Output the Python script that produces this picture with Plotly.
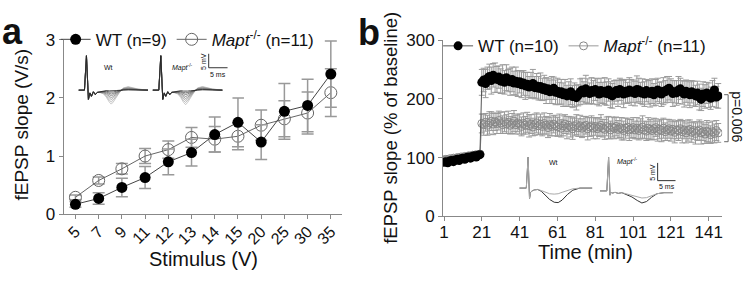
import plotly.graph_objects as go

W, H = 750, 282
def px(x): return x / W
def py(y): return 1 - y / H

FONT = "Arial, Liberation Sans, sans-serif"

# ---------------- Panel a data ----------------
stim_labels = ["5", "7", "9", "11", "12", "13", "14", "15", "20", "25", "30", "35"]
wt_a = [0.17, 0.27, 0.46, 0.63, 0.90, 1.06, 1.37, 1.58, 1.24, 1.77, 1.87, 2.41]
wt_a_err = [0.05, 0.10, 0.16, 0.19, 0.22, 0.23, 0.30, 0.42, 0.30, 0.48, 0.45, 0.57]
mapt_a = [0.29, 0.58, 0.78, 1.00, 1.11, 1.32, 1.29, 1.34, 1.53, 1.64, 1.74, 2.09]
mapt_a_err = [0.04, 0.06, 0.09, 0.13, 0.15, 0.17, 0.22, 0.23, 0.26, 0.31, 0.36, 0.41]

# ---------------- Panel b data ----------------
minutes = list(range(1, 147))
time_ticks = [1, 21, 41, 61, 81, 101, 121, 141]
wt_b = [92, 93, 91, 94, 95, 93, 96, 97, 95, 98, 99, 97, 100, 101, 99, 102, 103, 101, 104, 105,
        228, 232, 226, 235, 238, 231, 240, 236, 233, 237,
        230, 234, 228, 236, 231, 229, 233, 227, 230, 226,
        229, 224, 227, 222, 225, 220, 223, 226, 219, 222,
        218, 221, 216, 219, 214, 217, 212, 215, 218, 211,
        213, 209, 212, 207, 210, 205, 208, 212, 204, 207,
        202, 206, 212, 215, 210, 217, 213, 209, 214, 211,
        216, 212, 208, 214, 210, 213, 209, 215, 207, 205,
        211, 214, 209, 216, 212, 208, 213, 210, 215, 211,
        213, 209, 216, 215, 210, 212, 208, 214, 211, 209,
        213, 207, 211, 215, 210, 208, 213, 212, 216, 218,
        214, 209, 212, 210, 215, 217, 211, 208, 213, 210,
        207, 212, 209, 205, 210, 203, 199, 208, 204, 210,
        206, 201, 209, 215, 203, 205]
wt_b_err = [4, 5, 4, 3, 5, 4, 4, 5, 3, 4, 5, 4, 4, 3, 5, 4, 4, 5, 4, 4,
            22, 20, 24, 19, 21, 23, 20, 25, 22, 19,
            21, 24, 20, 22, 19, 23, 21, 20, 24, 22,
            19, 22, 21, 23, 20, 18, 22, 24, 19, 21,
            20, 23, 19, 21, 22, 18, 20, 23, 19, 21,
            22, 19, 21, 20, 23, 18, 21, 22, 19, 20,
            21, 18, 22, 20, 19, 23, 21, 18, 22, 20,
            19, 22, 20, 21, 18, 23, 20, 19, 22, 21,
            20, 18, 22, 19, 21, 23, 20, 18, 21, 22,
            19, 21, 23, 20, 18, 22, 21, 19, 20, 23,
            21, 19, 22, 20, 18, 21, 23, 19, 22, 20,
            20, 22, 19, 21, 23, 18, 20, 22, 19, 21,
            22, 19, 21, 18, 20, 22, 19, 21, 20, 18,
            21, 19, 22, 20, 18, 21]
mapt_b = [96, 97, 95, 98, 97, 99, 98, 100, 99, 101, 100, 102, 101, 103, 102, 104, 103, 105, 104, 106,
          158, 156, 160, 155, 159, 162, 157, 161, 158, 163,
          159, 156, 161, 157, 160, 155, 158, 162, 156, 159,
          157, 153, 158, 155, 160, 154, 157, 152, 156, 159,
          154, 157, 153, 158, 155, 151, 156, 153, 157, 154,
          152, 156, 150, 154, 157, 151, 155, 152, 149, 153,
          156, 151, 154, 150, 153, 155, 149, 152, 154, 150,
          153, 149, 152, 155, 150, 148, 153, 151, 147, 152,
          150, 153, 148, 151, 149, 146, 150, 152, 147, 149,
          151, 147, 150, 146, 149, 152, 147, 145, 150, 148,
          146, 149, 151, 145, 148, 146, 150, 144, 147, 149,
          145, 148, 143, 147, 146, 149, 144, 147, 142, 146,
          148, 143, 146, 141, 145, 147, 142, 144, 140, 145,
          143, 139, 144, 141, 146, 142]
mapt_b_err = [5, 4, 5, 4, 3, 5, 4, 4, 5, 3, 4, 5, 4, 4, 5, 3, 4, 5, 4, 5,
              16, 18, 15, 17, 19, 16, 18, 15, 17, 16,
              18, 15, 17, 16, 19, 15, 17, 18, 16, 15,
              17, 16, 18, 15, 17, 19, 16, 15, 18, 17,
              15, 17, 16, 18, 15, 17, 19, 16, 15, 17,
              16, 18, 15, 17, 16, 19, 15, 17, 18, 16,
              17, 15, 18, 16, 17, 15, 19, 16, 17, 18,
              15, 17, 16, 18, 15, 17, 16, 19, 15, 17,
              18, 16, 15, 17, 19, 16, 17, 15, 18, 16,
              17, 15, 18, 16, 17, 19, 15, 16, 18, 17,
              16, 18, 15, 17, 16, 19, 17, 15, 18, 16,
              17, 16, 18, 15, 17, 16, 19, 15, 17, 18,
              16, 17, 15, 18, 16, 17, 19, 15, 16, 18,
              17, 15, 18, 16, 17, 16]

# ---------------- Inset traces (panel a, input-output sweeps) ----------------
ia_t = [0, 1.58, 2.11, 2.37, 2.63, 3.03, 3.42, 3.95, 4.47, 5.0, 5.79, 6.58, 7.37, 8.16, 8.68,
        9.21, 10.0, 10.79, 11.84, 13.16, 15.79, 18.42]
ia_art = [0, 0, 12.3, 3, -3.3, -1.0, -2.2, -0.6, -1.6, -0.8, -0.6, -0.3, 0, 0, 0, 0, 0, 0, 0, 0, 0, 0]
ia_epsp = [0, 0, 0, 0, 0, 0, 0, 0, 0, 0, -0.05, -0.2, -0.5, -0.85, -1.0, -0.85, -0.5, -0.2, 0.15, 0.25, 0.08, 0]
ia_wt_amp = [0.3, 0.8, 1.4, 2.0, 2.7, 3.4, 4.2, 5.0]
ia_mapt_amp = [0.4, 1.0, 1.6, 2.3, 3.0, 3.7, 4.4, 5.2]
ia_colors = ["#222222", "#444444", "#666666", "#777777", "#888888", "#999999", "#aaaaaa", "#bbbbbb"]
ia_mapt_shift = 19.7

# ---------------- Inset traces (panel b, LTP examples) ----------------
ib_wt_t = [1.1, 3.0, 3.5, 3.7, 3.9, 4.2, 4.6, 5.3, 6.2, 7.2, 8.2, 9.5, 10.8, 11.9, 13.0, 14.5, 16.0, 18.0, 21.4]
ib_wt_post = [0, 0, 8.7, 1.5, -3.0, -1.2, -0.8, -0.5, -0.4, -0.9, -1.8, -3.2, -4.0, -4.1, -3.4, -1.8, -0.6, 0, 0]
ib_wt_base = [0, 0, 8.7, 1.5, -3.0, -1.2, -0.8, -0.5, -0.4, -0.7, -1.1, -1.6, -1.7, -1.6, -1.2, -0.6, -0.2, 0, 0]
ib_mapt_t = [23.6, 25.5, 26.0, 26.2, 26.4, 26.7, 27.1, 27.8, 28.7, 29.7, 31.0, 32.5, 34.0, 35.3, 36.6, 38.0, 39.5, 41.5, 43.9]
ib_mapt_post = [-0.8, -0.8, 8.7, 1.5, -2.0, -1.2, -1.4, -1.2, -1.5, -1.3, -1.8, -2.5, -3.5, -4.2, -3.8, -2.6, -1.6, -1.3, -1.3]
ib_mapt_base = [-0.8, -0.8, 8.7, 1.5, -2.0, -1.2, -1.4, -1.2, -1.5, -1.3, -1.6, -2.0, -2.5, -2.8, -2.7, -2.2, -1.6, -1.3, -1.3]

fig = go.Figure()

# ---- Panel a traces ----
xa = list(range(len(stim_labels)))
fig.add_trace(go.Scatter(
    x=xa, y=mapt_a, mode="lines+markers", name="<i>Mapt</i><sup>-/-</sup> (n=11)",
    line=dict(color="#666666", width=1),
    marker=dict(symbol="circle-open", size=12, color="#666666", line=dict(width=1)),
    error_y=dict(type="data", array=mapt_a_err, color="#999999", thickness=1.5, width=6),
    xaxis="x", yaxis="y", legend="legend"))
fig.add_trace(go.Scatter(
    x=xa, y=wt_a, mode="lines+markers", name="WT (n=9)",
    line=dict(color="#444444", width=1),
    marker=dict(symbol="circle", size=11, color="#000000"),
    error_y=dict(type="data", array=wt_a_err, color="#999999", thickness=1.5, width=6),
    xaxis="x", yaxis="y", legend="legend"))

# ---- Panel b traces ----
fig.add_trace(go.Scatter(
    x=minutes, y=mapt_b, mode="lines+markers", name="<i>Mapt</i><sup>-/-</sup> (n=11)",
    line=dict(color="#999999", width=1),
    marker=dict(symbol="circle-open", size=8, color="#888888", line=dict(width=1)),
    error_y=dict(type="data", array=mapt_b_err, color="#9a9a9a", thickness=1, width=3),
    xaxis="x2", yaxis="y2", legend="legend2"))
fig.add_trace(go.Scatter(
    x=minutes, y=wt_b, mode="lines+markers", name="WT (n=10)",
    line=dict(color="#555555", width=1),
    marker=dict(symbol="circle", size=9, color="#000000"),
    error_y=dict(type="data", array=wt_b_err, color="#9a9a9a", thickness=1, width=3),
    xaxis="x2", yaxis="y2", legend="legend2"))

# ---- Inset a traces ----
for amp, col in zip(ia_wt_amp[::-1], ia_colors[::-1]):
    fig.add_trace(go.Scatter(x=ia_t, y=[a + amp * e for a, e in zip(ia_art, ia_epsp)],
                             mode="lines", line=dict(color=col, width=0.8), showlegend=False,
                             hoverinfo="skip", xaxis="x3", yaxis="y3"))
for amp, col in zip(ia_mapt_amp[::-1], ia_colors[::-1]):
    fig.add_trace(go.Scatter(x=[t + ia_mapt_shift for t in ia_t],
                             y=[a + amp * e for a, e in zip(ia_art, ia_epsp)],
                             mode="lines", line=dict(color=col, width=0.8), showlegend=False,
                             hoverinfo="skip", xaxis="x3", yaxis="y3"))

# ---- Inset b traces ----
for tt, yy, col in [(ib_wt_t, ib_wt_post, "#333333"), (ib_wt_t, ib_wt_base, "#aaaaaa"),
                    (ib_mapt_t, ib_mapt_post, "#333333"), (ib_mapt_t, ib_mapt_base, "#aaaaaa")]:
    fig.add_trace(go.Scatter(x=tt, y=yy, mode="lines", line=dict(color=col, width=1),
                             showlegend=False, hoverinfo="skip", xaxis="x4", yaxis="y4"))

axis_common = dict(showline=True, linecolor="#888888", linewidth=1, ticks="outside",
                   ticklen=4, tickcolor="#888888", showgrid=False, zeroline=False,
                   tickfont=dict(family=FONT, size=17, color="#111111"))

fig.update_layout(
    width=W, height=H, margin=dict(l=0, r=0, t=0, b=0),
    paper_bgcolor="white", plot_bgcolor="white",
    font=dict(family=FONT, color="#111111"),
    xaxis=dict(domain=[px(60), px(340)], range=[-0.51, 11.47], tickvals=xa, ticktext=stim_labels,
               tickangle=-45, anchor="y", ticklabelstandoff=-3,
               **{**axis_common, "tickfont": dict(family=FONT, size=16, color="#111111")}),
    yaxis=dict(domain=[py(220), py(33)], range=[0, 3], tickvals=[0, 1, 2, 3], anchor="x", **axis_common),
    xaxis2=dict(domain=[px(442), px(723)], range=[0.5, 148.1], tickvals=time_ticks, anchor="y2",
                ticklabelstandoff=-4, **axis_common),
    yaxis2=dict(domain=[py(222.3), py(33.3)], range=[0, 300], tickvals=[0, 100, 200, 300], anchor="x2", **axis_common),
    xaxis3=dict(domain=[px(75), px(230)], range=[0, 40.8], visible=False, anchor="y3"),
    yaxis3=dict(domain=[py(110), py(45)], range=[-7.67, 14], visible=False, anchor="x3"),
    xaxis4=dict(domain=[px(515), px(680)], range=[0, 45.8], visible=False, anchor="y4"),
    yaxis4=dict(domain=[py(212), py(155)], range=[-5.26, 9.74], visible=False, anchor="x4"),
    legend=dict(x=px(52), y=py(33), xanchor="left", yanchor="middle", orientation="h",
                font=dict(family=FONT, size=17, color="#111111"), bgcolor="rgba(0,0,0,0)",
                itemwidth=30, tracegroupgap=0, traceorder="reversed"),
    legend2=dict(x=px(437), y=py(40), xanchor="left", yanchor="middle", orientation="h",
                 font=dict(family=FONT, size=17, color="#111111"), bgcolor="rgba(0,0,0,0)",
                 itemwidth=30, tracegroupgap=0, traceorder="reversed"),
    showlegend=True,
)

shapes = []
# scale bars inset a
shapes.append(dict(type="line", xref="x3", yref="y3", x0=34.5, x1=34.5, y0=8, y1=13, line=dict(color="#333333", width=1)))
shapes.append(dict(type="line", xref="x3", yref="y3", x0=34.5, x1=39.5, y0=8, y1=8, line=dict(color="#333333", width=1)))
# scale bars inset b
shapes.append(dict(type="line", xref="x4", yref="y4", x0=39.7, x1=39.7, y0=2.1, y1=7.1, line=dict(color="#333333", width=1)))
shapes.append(dict(type="line", xref="x4", yref="y4", x0=39.7, x1=44.7, y0=2.1, y1=2.1, line=dict(color="#333333", width=1)))
# significance bracket panel b
shapes.append(dict(type="line", xref="paper", yref="y2", x0=px(729), x1=px(729), y0=127, y1=207, line=dict(color="#666666", width=1)))
shapes.append(dict(type="line", xref="paper", yref="y2", x0=px(725), x1=px(729), y0=207, y1=207, line=dict(color="#666666", width=1)))
shapes.append(dict(type="line", xref="paper", yref="y2", x0=px(725), x1=px(729), y0=127, y1=127, line=dict(color="#666666", width=1)))
fig.update_layout(shapes=shapes)

def ann(text, x, y, size, angle=0, bold=False, color="#111111", xanchor="center"):
    return dict(text=f"<b>{text}</b>" if bold else text, x=px(x), y=py(y), xref="paper", yref="paper",
                showarrow=False, textangle=angle, xanchor=xanchor, yanchor="middle",
                font=dict(family=FONT, size=size, color=color))

annotations = [
    ann("a", 9, 24, 36, bold=True),
    ann("b", 367, 25, 36, bold=True),
    ann("fEPSP slope (V/s)", 18, 124, 19, angle=-90),
    ann("Stimulus (V)", 201, 268, 20),
    ann("fEPSP slope (% of baseline)", 389, 127, 18.5, angle=-90),
    ann("Time (min)", 585, 261, 20),
    ann("p=0.006", 738, 115, 14, angle=90),
    ann("Wt", 105, 63, 7),
    ann("<i>Mapt</i><sup>-/-</sup>", 180, 63, 7),
    ann("5 mV", 201, 56, 7, angle=-90),
    ann("5 ms", 215, 70, 7),
    ann("Wt", 553, 165, 7),
    ann("<i>Mapt</i><sup>-/-</sup>", 628, 163, 7),
    ann("5 mV", 653, 175, 7, angle=-90),
    ann("5 ms", 667, 190, 7),
]
fig.update_layout(annotations=annotations)

fig.write_html("out.html", config={"displayModeBar": False},
               post_script="document.body.style.margin='0';document.body.style.overflow='hidden';")
